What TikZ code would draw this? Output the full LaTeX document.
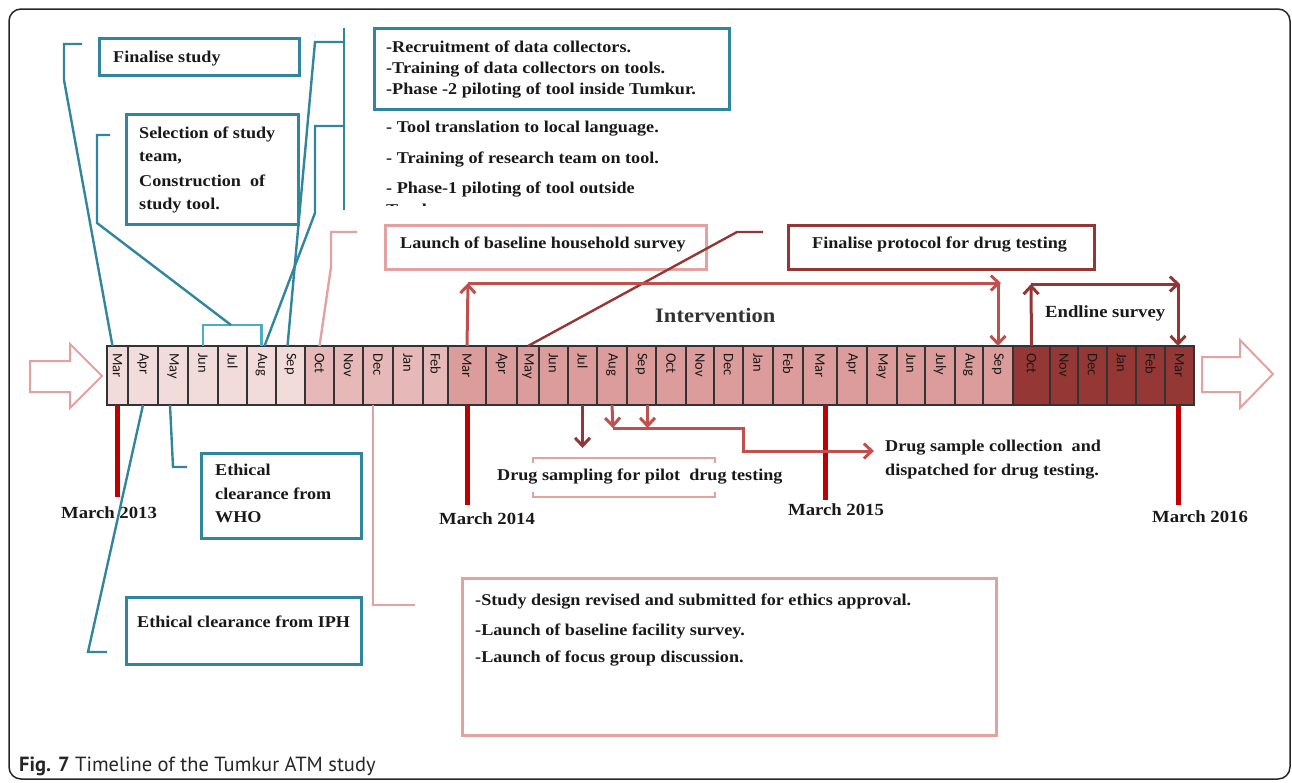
\documentclass[tikz,border=0pt]{standalone}
\usepackage{fontspec}
\setmainfont{Liberation Serif}[FakeStretch=1.1]
\newfontfamily\monthfont{Carlito}
\newfontfamily\capfont{PT Sans}
\usetikzlibrary{arrows.meta,calc}
\definecolor{teal}{HTML}{31859C}
\definecolor{cyanl}{HTML}{4BACC6}
\definecolor{pinkl}{HTML}{E3A2A2}
\definecolor{dred}{HTML}{943634}
\definecolor{ared}{HTML}{C0504D}
\definecolor{mred}{HTML}{C00000}
\definecolor{cA}{HTML}{F2DCDB}
\definecolor{cB}{HTML}{E6B9B8}
\definecolor{cC}{HTML}{DC9C9B}
\definecolor{cD}{HTML}{953735}
\tikzset{
  txt/.style={inner sep=0, anchor=base west, text=black!90, font=\bfseries\fontsize{16.5}{19}\selectfont},
  mlabel/.style={inner sep=0, anchor=base, text=black!90, font=\bfseries\fontsize{17}{20}\selectfont},
  cell/.style={draw=black!80, line width=1.3, inner sep=0, outer sep=0, minimum height=59pt},
  month/.style={inner sep=0, rotate=-90, anchor=west, text=black!90, font=\monthfont\fontsize{14.5}{15}\selectfont},
  tealbox/.style={draw=teal, line width=2.6, anchor=north west, inner sep=0},
  pinkbox/.style={draw=pinkl, line width=2.6, anchor=north west, inner sep=0},
  dredbox/.style={draw=dred, line width=2.6, anchor=north west, inner sep=0},
  tealln/.style={draw=teal, line width=2.4},
  cyanln/.style={draw=cyanl, line width=2.4},
  pinkln/.style={draw=pinkl, line width=2.4},
  dredln/.style={draw=dred, line width=2.4},
  redarr/.style={draw=ared, line width=3, -{Straight Barb[length=8pt,width=15pt]}},
  dredarr/.style={draw=dred, line width=3, -{Straight Barb[length=8pt,width=15pt]}},
  marchln/.style={draw=mred, line width=5},
  bigarrow/.style={draw=pinkl, line width=2, fill=white},
}
\begin{document}
\begin{tikzpicture}[x=1pt,y=-1pt]
\useasboundingbox (0,0) rectangle (1292,782);
\draw[line width=1.5, draw=black!85, rounded corners=12] (9,9) rectangle (1290,779);

% big side arrows
\draw[bigarrow] (30,361) -- (70,361) -- (70,344) -- (102,376) -- (70,408) -- (70,392) -- (30,392) -- cycle;
\draw[bigarrow] (1202,357) -- (1240,357) -- (1240,340) -- (1273,374) -- (1240,408) -- (1240,392) -- (1202,392) -- cycle;

% timeline cells
\foreach \l/\r/\m/\c [count=\i] in {107/128/Mar/cA, 128/158/Apr/cA, 158/188/May/cA, 188/218/Jun/cA, 218/247/Jul/cA, 247/276/Aug/cA, 276/305/Sep/cA, 305/334/Oct/cB, 334/363/Nov/cB, 363/393/Dec/cB, 393/423/Jan/cB, 423/448/Feb/cB, 448/486/Mar/cC, 486/517/Apr/cC, 517/539/May/cC, 539/568/Jun/cC, 568/597/Jul/cC, 597/627/Aug/cC, 627/656/Sep/cC, 656/686/Oct/cC, 686/714/Nov/cC, 714/743/Dec/cC, 743/773/Jan/cC, 773/803/Feb/cC, 803/837/Mar/cC, 837/867/Apr/cC, 867/897/May/cC, 897/925/Jun/cC, 925/955/July/cC, 955/983/Aug/cC, 983/1013/Sep/cC, 1013/1050/Oct/cD, 1050/1078/Nov/cD, 1078/1107/Dec/cD, 1107/1136/Jan/cD, 1136/1165/Feb/cD, 1165/1194/Mar/cD}{
  \pgfmathsetmacro\w{\r-\l}
  \pgfmathsetmacro\cx{(\l+\r)/2}
  \node[cell, fill=\c, minimum width=\w pt] (m\i) at (\cx,375.5) {};
  \node[month] (ml\i) at (\cx,353) {\m};
}

% ---- top-left teal boxes and connectors
\node[tealbox, minimum width=200pt, minimum height=37pt] (fin) at (98,37) {};
\node[txt] (tfin) at (113,62) {Finalise study};
\draw[tealln] ($(m1.north)+(-5,0)$) -- (64,80) -- (64,44) -- (82,44);

\node[tealbox, minimum width=172pt, minimum height=110pt] (sel) at (125,113) {};
\node[txt] (tsel1) at (139,138) {Selection of study};
\node[txt] (tsel2) at (139,161) {team,};
\node[txt] (tsel3) at (139,186) {Construction\ \ of};
\node[txt] (tsel4) at (139,209) {study tool.};
\coordinate (brk) at (231,325);
\draw[cyanln] (m4.north) -- (m4.north |- brk) -- (m6.north |- brk) -- (m6.north);
\draw[tealln] (brk) -- (97,223) -- (97,135) -- (110,135);

\draw[tealln] (344,28) -- (344,210);
\draw[tealln] ($(m7.north)+(-3,0)$) -- (315,42) -- (344,42);
\draw[tealln] ($(m6.north)+(3,0)$) -- (315,213) -- (315,126) -- (344,126);

\node[tealbox, minimum width=355pt, minimum height=81pt] (rec) at (373,27) {};
\node[txt] (trec1) at (386,52) {-Recruitment of data collectors.};
\node[txt] (trec2) at (386,73) {-Training of data collectors on tools.};
\node[txt] (trec3) at (386,94) {-Phase -2 piloting of tool inside Tumkur.};
\node[txt] (ttool1) at (386,132) {- Tool translation to local language.};
\node[txt] (ttool2) at (386,163) {- Training of research team on tool.};
\node[txt] (ttool3) at (386,193) {- Phase-1 piloting of tool outside};
\begin{scope}
\clip (380,196) rectangle (560,205);
\node[txt] (ttool4) at (386,215) {Tumkur.};
\end{scope}

% ---- launch household survey
\node[pinkbox, minimum width=321pt, minimum height=44pt] (launch) at (384,224) {};
\node[txt] (tlaunch) at (400,248) {Launch of baseline household survey};
\draw[pinkln] (m8.north) -- (331,267) -- (331,232) -- (357,232);

% ---- protocol
\node[dredbox, minimum width=306pt, minimum height=44pt] (proto) at (787,224) {};
\node[txt] (tproto) at (812,248) {Finalise protocol for drug testing};
\draw[dredln] (m15.north) -- (737,232) -- (763,232);

% ---- intervention
\coordinate (iv1) at (468,283);
\coordinate (iv2) at (998,283);
\draw[redarr] (m13.north) -- (iv1);
\draw[redarr] (iv1) -- ($(iv2)+(3,0)$);
\draw[redarr] (iv2) -- (m31.north);
\node[txt, font=\bfseries\fontsize{20.5}{24}\selectfont, text=black!80] (tint) at (655,322) {Intervention};

% ---- endline
\coordinate (en1) at (1031,284);
\coordinate (en2) at (1178,284);
\draw[dredarr] (m32.north) -- (en1);
\draw[dredarr] (en1) -- ($(en2)+(2,0)$);
\draw[dredarr] (en2) -- ($(m37.north)+(-1.5,0)$);
\node[txt, font=\bfseries\fontsize{17}{20}\selectfont] (tend) at (1045,317) {Endline survey};

% ---- March lines
\draw[marchln] (m1.south) -- ++(0,92) coordinate (e13);
\draw[marchln] (m13.south) -- ++(0,100) coordinate (e14);
\draw[marchln] ($(m25.south)+(5,0)$) -- ++(0,95) coordinate (e15);
\draw[marchln] ($(m37.south)+(-1.5,0)$) -- ++(0,100) coordinate (e16);

% ---- drug sampling
\draw[dredarr] (m17.south) -- ++(0,43) coordinate (ps);
\draw[pinkln, line width=2] (533,463) -- (533,458) -- (715,458) -- (715,463);
\draw[pinkln, line width=2] (533,492) -- (533,497) -- (715,497) -- (715,492);
\node[txt] (tpilot) at (497,480) {Drug sampling for pilot\ \ drug testing};

\coordinate (ds1) at (613,428);
\draw[redarr] (m18.south) -- (ds1);
\draw[redarr] ($(m19.south)+(6,0)$) -- ++(0,23);
\draw[redarr] (ds1) -- (743,428) -- (743,451) -- (874,451) coordinate (ds2);
\node[txt] (tcol1) at (885,451) {Drug sample collection\ \ and};
\node[txt] (tcol2) at (885,475) {dispatched for drug testing.};

% March labels (drawn after lines)
\node[mlabel] (l13) at (109,518) {March 2013};
\node[mlabel] (l14) at (487,524) {March 2014};
\node[mlabel] (l15) at (836,515) {March 2015};
\node[mlabel] (l16) at (1200,522) {March 2016};

% ---- bottom teal boxes
\draw[tealln] ($(m3.south)+(-3,0)$) -- (173,467) -- (187,467);
\node[tealbox, minimum width=160pt, minimum height=85pt] (who) at (200,452) {};
\node[txt] (twho1) at (215,475) {Ethical};
\node[txt] (twho2) at (215,499) {clearance from};
\node[txt] (twho3) at (215,522) {WHO};

\draw[tealln] (m2.south) -- (88,652) -- (107,652);
\node[tealbox, minimum width=235pt, minimum height=67pt] (iph) at (125,596) {};
\node[txt] (tiph) at (137,627) {Ethical clearance from IPH};

% ---- big pink box
\draw[pinkln] ($(m10.south)+(-5,0)$) -- (373,605) -- (415,605);
\node[pinkbox, minimum width=534pt, minimum height=157pt, line width=3] (big) at (461,577) {};
\node[txt] (tbig1) at (475,605) {-Study design revised and submitted for ethics approval.};
\node[txt] (tbig2) at (475,635) {-Launch of baseline facility survey.};
\node[txt] (tbig3) at (475,662) {-Launch of focus group discussion.};

% caption
\node[anchor=base west, inner sep=0, font=\capfont\fontsize{20.5}{23}\selectfont, text=black!85] (cap) at (19,771) {\textbf{Fig. 7} Timeline of the Tumkur ATM study};
\end{tikzpicture}
\end{document}
